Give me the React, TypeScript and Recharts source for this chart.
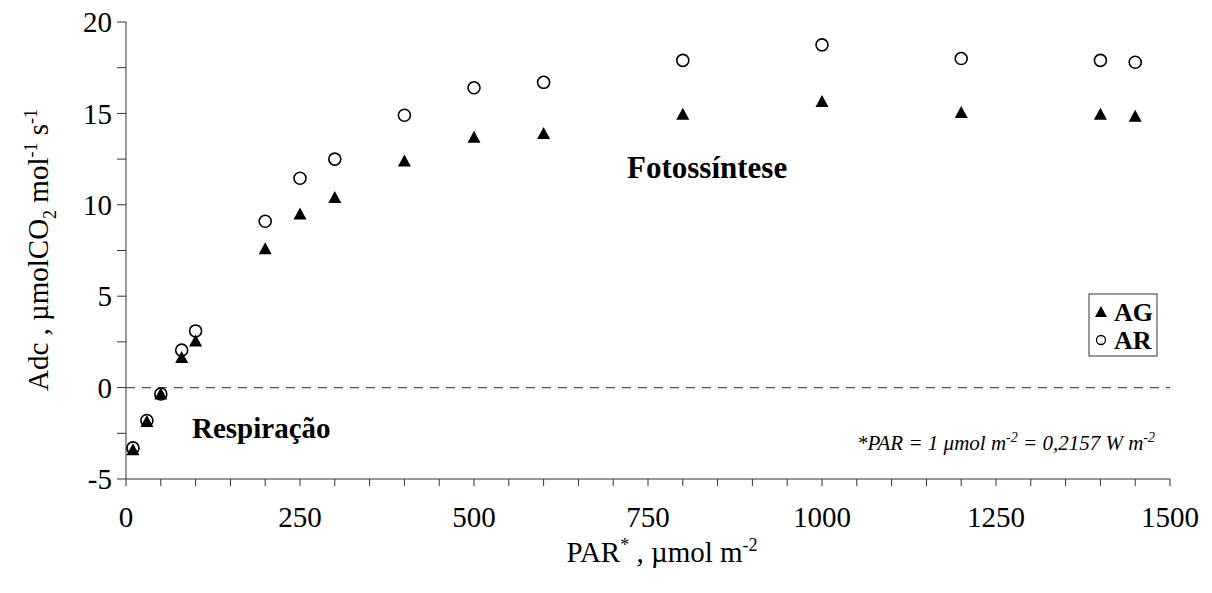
import React from "react";
import {
  ScatterChart,
  Scatter,
  XAxis,
  YAxis,
  ReferenceLine,
} from "recharts";

const parValues = [10, 30, 50, 80, 100, 200, 250, 300, 400, 500, 600, 800, 1000, 1200, 1400, 1450];
const agValues = [-3.4, -1.85, -0.35, 1.65, 2.55, 7.6, 9.5, 10.4, 12.4, 13.7, 13.9, 14.95, 15.65, 15.05, 14.95, 14.85];
const arValues = [-3.3, -1.8, -0.35, 2.05, 3.1, 9.1, 11.45, 12.5, 14.9, 16.4, 16.7, 17.9, 18.75, 18.0, 17.9, 17.8];

const xTicks = Array.from({ length: 31 }, (_, i) => i * 50);
const yTicks = [-5, -2.5, 0, 2.5, 5, 7.5, 10, 12.5, 15, 17.5, 20];

const agData = parValues.map((x, i) => ({ x, y: agValues[i] }));
const arData = parValues.map((x, i) => ({ x, y: arValues[i] }));

const FONT = "'Liberation Serif', 'Times New Roman', serif";

const Triangle = (props: any) => {
  const { cx, cy } = props;
  if (cx == null || cy == null) return null;
  const s = 6.5;
  return (
    <path
      d={`M${cx},${cy - s} L${cx + s},${cy + s * 0.85} L${cx - s},${cy + s * 0.85} Z`}
      fill="#000"
    />
  );
};

const Circle = (props: any) => {
  const { cx, cy } = props;
  if (cx == null || cy == null) return null;
  return <circle cx={cx} cy={cy} r={6} fill="#fff" stroke="#000" strokeWidth={1.6} />;
};

export default function App() {
  return (
    <div style={{ position: "absolute", left: 0, top: 0, width: 1212, height: 593, background: "#fff" }}>
      <ScatterChart
        width={1212}
        height={593}
        margin={{ top: 22, right: 42, left: 0, bottom: 0 }}
      >
        <XAxis
          type="number"
          dataKey="x"
          domain={[0, 1500]}
          ticks={xTicks}
          interval={0}
          tickFormatter={(v: number) => (v % 250 === 0 ? String(v) : "")}
          height={114}
          tickSize={7}
          tickMargin={20}
          stroke="#333"
          tick={{ fill: "#000", fontFamily: FONT, fontSize: 29 }}
          allowDataOverflow
        />
        <YAxis
          type="number"
          dataKey="y"
          domain={[-5, 20]}
          ticks={yTicks}
          interval={0}
          tickFormatter={(v: number) => (v % 5 === 0 ? String(v) : "")}
          width={126}
          tickSize={9}
          tickMargin={5}
          stroke="#333"
          tick={{ fill: "#000", fontFamily: FONT, fontSize: 29 }}
          allowDataOverflow
        />
        <ReferenceLine y={0} stroke="#555" strokeDasharray="9 7" strokeWidth={1.3} />
        <Scatter data={arData} shape={<Circle />} isAnimationActive={false} />
        <Scatter data={agData} shape={<Triangle />} isAnimationActive={false} />
      </ScatterChart>
      <svg
        width={1212}
        height={593}
        style={{ position: "absolute", left: 0, top: 0, pointerEvents: "none" }}
        fontFamily={FONT}
      >
        <text x={627} y={178} fontSize={31} fontWeight="bold" fill="#000">Fotossíntese</text>
        <text x={192} y={438} fontSize={29} fontWeight="bold" fill="#000">Respiração</text>
        <text x={1155} y={450} fontSize={21} fontStyle="italic" fill="#000" textAnchor="end">
          *PAR = 1 μmol m<tspan dy={-8} fontSize={14}>-2</tspan>
          <tspan dy={8}>{"  "}= 0,2157 W m</tspan>
          <tspan dy={-8} fontSize={14}>-2</tspan>
        </text>
        <rect x={1089} y={294} width={68} height={62} fill="#fff" stroke="#555" strokeWidth={1.2} />
        <path d="M1101,306 L1107,317 L1095,317 Z" fill="#000" />
        <text x={1114} y={321} fontSize={26} fontWeight="bold" fill="#000">AG</text>
        <circle cx={1101} cy={340} r={4.5} fill="#fff" stroke="#000" strokeWidth={1.3} />
        <text x={1114} y={349} fontSize={26} fontWeight="bold" fill="#000">AR</text>
        <text x={662} y={562} fontSize={29} fill="#000" textAnchor="middle">
          PAR<tspan dy={-11} fontSize={18}>*</tspan>
          <tspan dy={11}> , µmol m</tspan>
          <tspan dy={-11} fontSize={18}>-2</tspan>
        </text>
        <text
          x={0}
          y={0}
          fontSize={29}
          fill="#000"
          textAnchor="middle"
          transform="translate(48,250) rotate(-90)"
        >
          Adc , µmolCO<tspan dy={8} fontSize={18}>2</tspan>
          <tspan dy={-8}> mol</tspan>
          <tspan dy={-11} fontSize={18}>-1</tspan>
          <tspan dy={11}> s</tspan>
          <tspan dy={-11} fontSize={18}>-1</tspan>
        </text>
      </svg>
    </div>
  );
}
